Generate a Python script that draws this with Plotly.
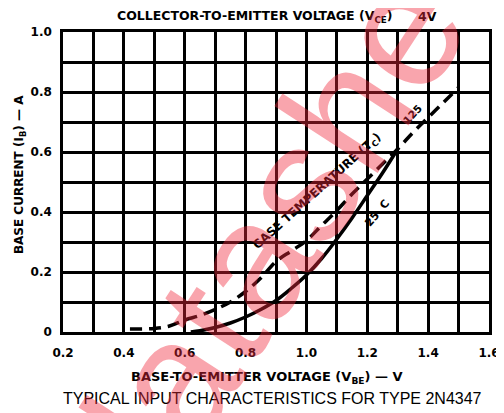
import plotly.graph_objects as go

# 25 C curve (solid)
v_25 = [0.62, 0.65, 0.70, 0.75, 0.80, 0.85, 0.90, 0.95, 1.00, 1.05, 1.10, 1.15, 1.20, 1.25, 1.30]
i_25 = [0.0, 0.004, 0.015, 0.03, 0.05, 0.075, 0.105, 0.145, 0.19, 0.245, 0.31, 0.38, 0.455, 0.53, 0.61]

# 125 C curve (dashed)
v_125 = [0.42, 0.50, 0.55, 0.60, 0.65, 0.70, 0.75, 0.80, 0.85, 0.90, 0.95, 1.00, 1.05, 1.10,
         1.15, 1.20, 1.25, 1.30, 1.35, 1.40, 1.45, 1.50]
i_125 = [0.01, 0.012, 0.02, 0.04, 0.055, 0.075, 0.10, 0.135, 0.18, 0.235, 0.27, 0.305, 0.355, 0.405,
         0.46, 0.51, 0.56, 0.61, 0.665, 0.715, 0.765, 0.815]

x_ticks = [0.2, 0.4, 0.6, 0.8, 1.0, 1.2, 1.4, 1.6]
x_labels = ["0.2", "0.4", "0.6", "0.8", "1.0", "1.2", "1.4", "1.6"]
y_ticks = [0.0, 0.2, 0.4, 0.6, 0.8, 1.0]
y_labels = ["0", "0.2", "0.4", "0.6", "0.8", "1.0"]

FONT = "DejaVu Sans"
FONT2 = "Liberation Sans"

fig = go.Figure()
fig.add_trace(go.Scatter(x=v_25, y=i_25, mode="lines", line=dict(color="black", width=3.5, shape="spline"),
                         showlegend=False, hoverinfo="skip"))
fig.add_trace(go.Scatter(x=v_125, y=i_125, mode="lines",
                         line=dict(color="black", width=3.5, shape="spline", dash="12px,7px"),
                         showlegend=False, hoverinfo="skip"))

grid = dict(showgrid=True, gridcolor="black", gridwidth=2.5)
fig.update_xaxes(range=[0.2, 1.6], tickvals=x_ticks, ticktext=x_labels, showline=True, linecolor="black",
                 linewidth=2.5, mirror=True, zeroline=False, ticks="", ticklabelstandoff=8,
                 ticklabeloverflow="allow",
                 tickfont=dict(family=FONT, size=12, color="black", weight="bold"),
                 minor=dict(dtick=0.1, tick0=0.2, **grid), **grid)
fig.update_yaxes(range=[0, 1.0], tickvals=y_ticks, ticktext=y_labels, showline=True, linecolor="black",
                 linewidth=2.5, mirror=True, zeroline=False, ticks="", ticklabelstandoff=6,
                 ticklabeloverflow="allow",
                 tickfont=dict(family=FONT, size=12, color="black", weight="bold"),
                 minor=dict(dtick=0.1, tick0=0, **grid), **grid)

# page pixel -> paper coordinates (plot area spans x 63..500, y 32..332 on the page)
def px(xp, yp):
    return (xp - 63) / 437.0, (332 - yp) / 300.0

ann = []
def add_paper(text, xp, yp, size, bold=True, angle=0, family=FONT):
    x, y = px(xp, yp)
    ann.append(dict(text=text, x=x, y=y, xref="paper", yref="paper", showarrow=False, textangle=angle,
                    font=dict(family=family, size=size, color="black", weight="bold" if bold else "normal"),
                    xanchor="center", yanchor="middle"))

add_paper("COLLECTOR-TO-EMITTER VOLTAGE (V<sub>CE</sub>)", 260, 16, 12.5)
add_paper("4V", 437, 16, 12.5)
add_paper("BASE CURRENT (I<sub>B</sub>) — A", 19, 175, 12, angle=-90)
add_paper("BASE-TO-EMITTER VOLTAGE (V<sub>BE</sub>) — V", 272, 377, 13)
add_paper("TYPICAL INPUT CHARACTERISTICS FOR TYPE 2N4347", 278, 398, 16, bold=False, family=FONT2)

for text, x, y, ang, sz in [("CASE TEMPERATURE (T<sub>C</sub>)", 1.035, 0.468, -42, 12),
                            ("125", 1.348, 0.728, -47, 10.5),
                            ("25&nbsp;&nbsp;C", 1.232, 0.395, -50, 11)]:
    ann.append(dict(text=text, x=x, y=y, xref="x", yref="y", showarrow=False, textangle=ang,
                    font=dict(family=FONT, size=sz, color="black", weight="bold")))

# watermark
wx, wy = px(305, 186)
ann.append(dict(text="datasheet", x=wx, y=wy, xref="paper", yref="paper", showarrow=False, textangle=-57,
                font=dict(family=FONT2, size=170, color="rgba(240,40,60,0.42)")))

# the page body adds an 8px margin, so the figure is 8px smaller on each axis
fig.update_layout(width=496, height=405, margin=dict(l=55, r=4, t=24, b=81),
                  paper_bgcolor="white", plot_bgcolor="white", annotations=ann)

fig.write_html("out.html")
